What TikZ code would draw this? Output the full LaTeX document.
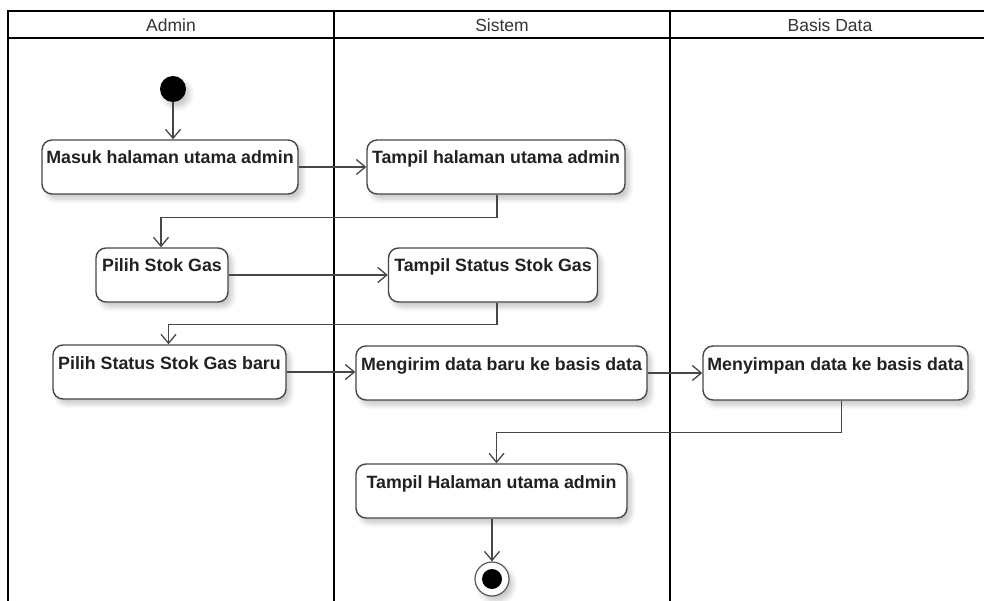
\documentclass[tikz,border=0pt]{standalone}
\usepackage{fontspec}
\setmainfont{Liberation Sans}
\usetikzlibrary{arrows.meta,shadows.blur,calc}

\begin{document}
\begin{tikzpicture}[x=1pt,y=-1pt,
  lane/.style={line width=2.2pt, draw=black},
  softshadow/.style={blur shadow={shadow xshift=4pt, shadow yshift=-5pt,
      shadow blur steps=6, shadow blur radius=5pt, shadow opacity=22}},
  act/.style={draw=black!72, line width=1.4pt, rounded corners=10pt, fill=white,
      inner sep=0pt, text height=24pt, text depth=30pt,
      font=\bfseries\fontsize{17.8}{20}\selectfont, text=black!87, softshadow},
  flow/.style={draw=black!72, line width=1.4pt,
      -{Straight Barb[length=9pt,width=15pt,line width=1.3pt]}},
  head/.style={font=\fontsize{17.5}{19}\selectfont, text=black!80}
]
\useasboundingbox (0,0) rectangle (984,601);

% swimlane frame
\draw[lane] (8,601) -- (8,11) -- (984,11);
\draw[lane] (8,38) -- (984,38);
\draw[lane] (334,11) -- (334,601);
\draw[lane] (670,11) -- (670,601);
\node[head] (hAdmin) at (171,25) {Admin};
\node[head] (hSistem) at (502,25) {Sistem};
\node[head] (hBasis) at (830,25) {Basis Data};

% initial node
\node[circle, fill=black, minimum size=26pt, inner sep=0pt, softshadow] (start) at (173,89) {};

% activities
\node[act, minimum width=256pt] (masuk) at (170,167) {Masuk halaman utama admin};
\node[act, minimum width=258pt] (tampilA) at (496,167) {Tampil halaman utama admin};
\node[act, minimum width=132pt] (pilihStok) at (162,275) {Pilih Stok Gas};
\node[act, minimum width=209pt] (tampilStatus) at (493,275) {Tampil Status Stok Gas};
\node[act, minimum width=233pt] (pilihStatus) at (169.5,372) {Pilih Status Stok Gas baru};
\node[act, minimum width=291pt] (kirim) at (501.5,373) {Mengirim data baru ke basis data};
\node[act, minimum width=265pt] (simpan) at (835.5,373) {Menyimpan data ke basis data};
\node[act, minimum width=271pt] (tampilB) at (491.5,491) {Tampil Halaman utama admin};

% final node
\node[circle, draw=black!65, line width=1.2pt, fill=white, minimum size=34pt,
      inner sep=0pt, softshadow] (final) at (492,579) {};
\node[circle, fill=black, minimum size=20pt, inner sep=0pt] (finalCore) at (final) {};

% control flow
\draw[flow] (start) -- (start |- masuk.north);
\draw[flow] (masuk.east) -- (tampilA.west);
\draw[flow] ([xshift=1pt]tampilA.south) -- ++(0,23) -| ([xshift=-1pt]pilihStok.north);
\draw[flow] (pilihStok.east) -- (tampilStatus.west);
\draw[flow] ([xshift=4pt]tampilStatus.south) -- ++(0,22) -| ([xshift=-1pt]pilihStatus.north);
\draw[flow] (pilihStatus.east) -- (pilihStatus.east -| kirim.west);
\draw[flow] (kirim.east) -- (simpan.west);
\draw[flow] ([xshift=6pt]simpan.south) -- ++(0,32) -| ([xshift=5pt]tampilB.north);
\draw[flow] (tampilB.south -| final) -- (final.north);
\end{tikzpicture}
\end{document}
